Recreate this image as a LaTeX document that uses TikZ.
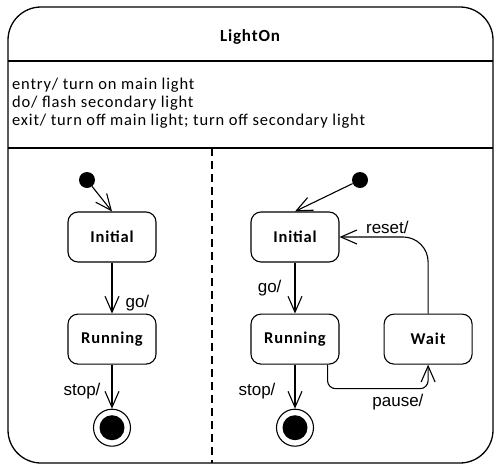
\documentclass[tikz,border=0pt]{standalone}
\usepackage{fontspec}
\setmainfont{Carlito}[LetterSpace=5]
\newfontfamily\trfont{Liberation Sans}
\usetikzlibrary{arrows.meta, positioning}
\tikzset{
  state/.style={rectangle, rounded corners=10pt, draw, line width=1.1pt,
                minimum width=88pt, minimum height=50pt,
                font=\fontsize{16.5}{18}\selectfont\bfseries},
  initdot/.style={circle, fill=black, minimum size=16pt, inner sep=0pt},
  finalst/.style={circle, draw, line width=1.1pt, minimum size=37pt,
                  inner sep=0pt,
                  path picture={\fill[black] (path picture bounding box.center)
                                circle (12.5pt);}},
  trans/.style={-{Straight Barb[length=16pt, width=14pt]}, line width=1.1pt},
  lbl/.style={font=\trfont\fontsize{17}{18}\selectfont, inner sep=1pt},
}

\begin{document}
\begin{tikzpicture}[x=1pt, y=1pt]
  \useasboundingbox (0,0) rectangle (495,-466);
  % composite state frame
  \draw[line width=1.3pt, rounded corners=33pt] (8,-7) rectangle (493,-463);
  \draw[line width=1.3pt] (8,-61) -- (493,-61);
  \draw[line width=1.3pt] (8,-148) -- (493,-148);
  \draw[line width=1.1pt, dash pattern=on 8pt off 5pt] (212,-148) -- (212,-463);
  \node[font=\fontsize{17}{18}\selectfont\bfseries] (title) at (250,-37) {LightOn};
  \node[anchor=north west, align=left, inner sep=4pt,
        font=\fontsize{16.5}{18}\selectfont] (acts) at (8,-74)
    {entry/ turn on main light\\do/ flash secondary light\\exit/ turn off main light; turn off secondary light};

  % left region
  \node[initdot] (dotL) at (87,-180) {};
  \node[state] (initL) at (112,-237) {Initial};
  \node[state, below=51pt of initL] (runL) {Running};
  \node[finalst, below=44pt of runL] (finL) {};

  % right region
  \node[initdot] (dotR) at (360,-180) {};
  \node[state] (initR) at (295,-237) {Initial};
  \node[state, below=51pt of initR] (runR) {Running};
  \node[state, right=44pt of runR] (waitR) {Wait};
  \node[finalst, below=44pt of runR] (finR) {};

  \draw[trans] (dotL) -- (initL.north);
  \draw[trans] (initL) -- node[lbl, pos=0.8, right=12pt] {go/} (runL);
  \draw[trans] (runL) -- node[lbl, pos=0.6, left=10pt] {stop/} (finL);

  \draw[trans] (dotR) -- (initR.north);
  \draw[trans] (initR) -- node[lbl, pos=0.5, left=12pt] {go/} (runR);
  \draw[trans] (runR) -- node[lbl, pos=0.6, left=18pt] {stop/} (finR);
  \draw[trans, rounded corners=8pt] ([xshift=-12pt]runR.south east) -- ++(0,-24pt)
    -| node[lbl, pos=0.35, below=4pt] {pause/} (waitR.south);
  \draw[trans, rounded corners=25pt] (waitR.north) |- node[lbl, pos=0.73, above=2pt] {reset/} (initR.east);
\end{tikzpicture}
\end{document}
